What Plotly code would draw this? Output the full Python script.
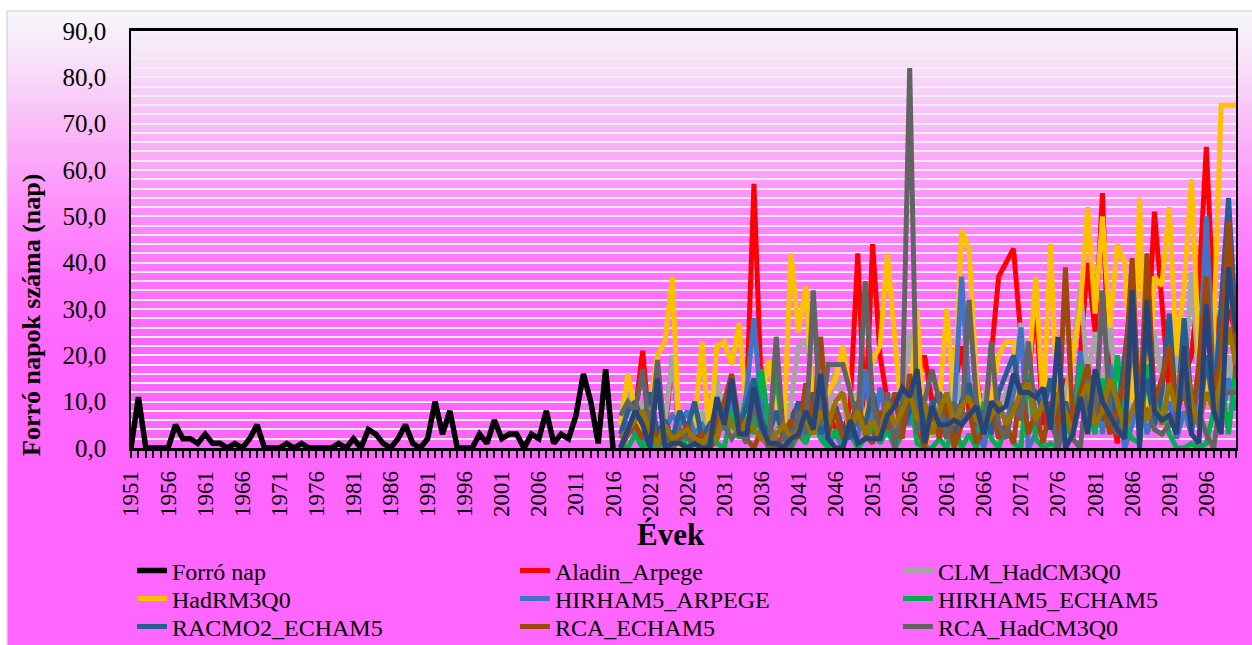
import plotly.graph_objects as go

# --- adatok -------------------------------------------------------------
years_obs = list(range(1951, 2017))
years_proj = list(range(2017, 2101))

forro_nap = [0, 11, 0, 0, 0, 0, 5, 2, 2, 1,
             3, 1, 1, 0, 1, 0, 2, 5, 0, 0,
             0, 1, 0, 1, 0, 0, 0, 0, 1, 0,
             2, 0, 4, 3, 1, 0, 2, 5, 1, 0,
             2, 10, 3, 8, 0, 0, 0, 3, 1, 6,
             2, 3, 3, 0, 3, 2, 8, 1, 3, 2,
             7, 16, 10, 1, 17, 0]

aladin_arpege = [0, 3, 8, 21, 2, 0, 3, 20, 1, 3,
                 2, 5, 0, 2, 8, 15, 4, 10, 57, 12,
                 3, 5, 8, 7, 9, 5, 10, 3, 8, 4,
                 2, 10, 42, 5, 44, 20, 10, 3, 8, 12,
                 14, 20, 10, 6, 3, 12, 22, 8, 15, 6,
                 20, 37, 40, 43, 24, 15, 31, 5, 8, 3,
                 15, 5, 20, 40, 25, 55, 10, 1, 15, 20,
                 8, 20, 51, 30, 12, 10, 15, 20, 35, 65,
                 30, 20, 30, 25]

clm_hadcm3q0 = [8, 12, 5, 10, 3, 12, 5, 20, 2, 5,
                3, 8, 2, 15, 6, 3, 10, 5, 12, 4,
                2, 6, 3, 10, 22, 23, 15, 5, 8, 17,
                10, 3, 12, 6, 10, 4, 8, 3, 12, 25,
                5, 10, 3, 12, 5, 20, 8, 15, 5, 10,
                18, 8, 12, 15, 27, 10, 5, 15, 8, 3,
                12, 20, 35, 15, 25, 10, 28, 8, 15, 5,
                20, 10, 25, 15, 8, 20, 12, 38, 15, 10,
                25, 8, 20, 10]

hadrm3q0 = [5, 16, 8, 0, 10, 20, 23, 37, 0, 0,
            5, 23, 2, 22, 23, 18, 27, 7, 14, 10,
            19, 10, 3, 42, 25, 35, 5, 10, 12, 15,
            22, 12, 8, 5, 19, 22, 42, 22, 5, 10,
            30, 0, 5, 10, 30, 10, 47, 43, 15, 3,
            10, 20, 23, 23, 5, 15, 37, 8, 44, 5,
            3, 20, 30, 52, 29, 50, 26, 44, 40, 10,
            54, 5, 37, 35, 52, 20, 35, 58, 20, 10,
            25, 74, 74, 74]

hirham5_arpege = [2, 5, 3, 0, 8, 2, 4, 7, 5, 8,
                  3, 5, 2, 6, 4, 10, 3, 12, 28, 8,
                  5, 2, 0, 3, 6, 2, 8, 4, 1, 3,
                  0, 5, 2, 17, 3, 13, 5, 2, 8, 5,
                  12, 3, 10, 6, 2, 8, 37, 12, 5, 0,
                  8, 3, 5, 12, 26, 0, 3, 12, 5, 2,
                  10, 3, 21, 8, 15, 3, 18, 10, 0, 5,
                  12, 3, 8, 6, 10, 2, 8, 3, 15, 50,
                  12, 5, 15, 8]

hirham5_echam5 = [1, 0, 3, 0, 2, 0, 5, 1, 3, 0,
                  2, 0, 4, 1, 0, 8, 2, 10, 3, 17,
                  5, 16, 2, 0, 3, 1, 6, 2, 0, 4,
                  1, 3, 0, 2, 5, 1, 4, 0, 3, 12,
                  1, 0, 0, 2, 0, 5, 0, 3, 0, 10,
                  2, 0, 5, 1, 0, 16, 2, 0, 1, 0,
                  5, 2, 18, 8, 3, 15, 4, 20, 5, 2,
                  1, 18, 5, 10, 3, 0, 0, 1, 0, 1,
                  8, 15, 3, 18]

racmo2_echam5 = [3, 8, 10, 5, 12, 3, 6, 2, 8, 4,
                 10, 2, 5, 3, 8, 12, 5, 9, 15, 6,
                 3, 8, 2, 5, 10, 4, 12, 3, 6, 9,
                 4, 2, 8, 5, 12, 3, 6, 10, 4, 8,
                 15, 5, 9, 12, 6, 3, 10, 14, 5, 8,
                 3, 12, 16, 20, 10, 14, 12, 8, 15, 5,
                 10, 3, 12, 8, 15, 6, 12, 5, 20, 34,
                 8, 15, 5, 12, 29, 6, 28, 10, 5, 20,
                 8, 30, 54, 25]

rca_echam5 = [0, 3, 5, 2, 8, 1, 4, 0, 2, 5,
              1, 3, 0, 6, 10, 16, 5, 2, 0, 4,
              1, 0, 3, 6, 2, 14, 5, 24, 3, 8,
              2, 5, 10, 3, 1, 8, 4, 12, 2, 16,
              5, 0, 8, 2, 10, 0, 5, 8, 1, 4,
              10, 2, 5, 1, 14, 3, 8, 1, 10, 3,
              39, 5, 12, 18, 6, 10, 3, 8, 15, 41,
              5, 42, 10, 15, 22, 8, 12, 5, 18, 37,
              10, 20, 49, 15]

rca_hadcm3q0 = [7, 10, 8, 17, 2, 19, 2, 0, 4, 2,
                1, 0, 3, 10, 5, 2, 4, 1, 10, 3,
                0, 24, 2, 0, 8, 3, 34, 5, 18, 18,
                18, 12, 5, 36, 10, 2, 12, 0, 10, 82,
                3, 10, 17, 10, 2, 10, 5, 32, 10, 3,
                23, 5, 2, 10, 6, 23, 5, 10, 8, 0,
                8, 2, 0, 15, 5, 34, 8, 3, 5, 25,
                6, 8, 4, 3, 5, 7, 15, 5, 8, 3,
                0, 12, 12, 12]

# a jelmagyarázatból kimaradt két modell
modell_10 = [2, 4, 6, 8, 3, 1, 5, 2, 3, 4,
             2, 1, 3, 2, 8, 5, 3, 6, 4, 2,
             1, 3, 5, 2, 4, 6, 3, 8, 5, 10,
             12, 4, 8, 3, 6, 2, 10, 5, 8, 12,
             6, 10, 3, 8, 12, 5, 9, 11, 6, 4,
             7, 10, 5, 8, 12, 14, 6, 10, 5, 12,
             8, 3, 10, 14, 5, 8, 15, 10, 4, 8,
             12, 6, 10, 5, 14, 8, 22, 10, 5, 12,
             8, 15, 26, 18]

modell_11 = [0, 4, 8, 5, 0, 15, 0, 1, 1, 0,
             1, 0, 0, 11, 5, 15, 3, 3, 13, 5,
             1, 1, 0, 2, 3, 8, 4, 16, 2, 0,
             0, 6, 1, 2, 2, 2, 7, 9, 13, 11,
             17, 1, 9, 5, 5, 6, 5, 7, 9, 3,
             10, 8, 9, 16, 12, 12, 11, 13, 4, 24,
             0, 3, 11, 3, 17, 10, 7, 4, 2, 34,
             0, 32, 8, 6, 7, 3, 22, 3, 1, 31,
             8, 3, 39, 25]

# (név, értékek, szín, jelmagyarázat)
series = [
    ("Aladin_Arpege", aladin_arpege, "#FF0000", "legend2"),
    ("CLM_HadCM3Q0", clm_hadcm3q0, "#A5A5A5", "legend3"),
    ("HadRM3Q0", hadrm3q0, "#FFC000", "legend4"),
    ("HIRHAM5_ARPEGE", hirham5_arpege, "#4472C4", "legend5"),
    ("HIRHAM5_ECHAM5", hirham5_echam5, "#00B050", "legend6"),
    ("RACMO2_ECHAM5", racmo2_echam5, "#255E91", "legend7"),
    ("RCA_ECHAM5", rca_echam5, "#9E480E", "legend8"),
    ("RCA_HadCM3Q0", rca_hadcm3q0, "#636363", "legend9"),
    (None, modell_10, "#997300", None),
    (None, modell_11, "#264478", None),
]

FONT = "Liberation Serif, Times New Roman, serif"

fig = go.Figure()

fig.add_trace(go.Scatter(
    x=years_obs, y=forro_nap, mode="lines", name="Forró nap",
    line=dict(color="#000000", width=5.5), legend="legend"
))

for name, vals, color, leg in series:
    fig.add_trace(go.Scatter(
        x=years_proj, y=vals, mode="lines",
        name=name if name else "",
        line=dict(color=color, width=5),
        showlegend=name is not None,
        legend=leg if leg else "legend",
    ))

# --- háttér színátmenet (fehér -> magenta) ------------------------------
W, H = 1252, 645
L, R, T, B = 131, 1236, 31, 448
pw, ph = R - L, B - T

def px_to_paper_x(px):
    return (px - L) / pw

def px_to_paper_y(py):
    return (B - py) / ph

stops = [(11, (246, 247, 251)), (60, (247, 226, 249)), (130, (250, 184, 247)),
         (200, (253, 146, 251)), (280, (255, 114, 255)), (360, (255, 102, 255)),
         (645, (255, 102, 255))]

def grad_color(py):
    for (y0, c0), (y1, c1) in zip(stops[:-1], stops[1:]):
        if y0 <= py <= y1:
            t = (py - y0) / (y1 - y0)
            return "rgb(%d,%d,%d)" % tuple(round(a + (b - a) * t) for a, b in zip(c0, c1))
    return "rgb(255,102,255)"

shapes = []
step = 6
for py in range(11, 645, step):
    shapes.append(dict(
        type="rect", xref="paper", yref="paper", layer="below",
        x0=px_to_paper_x(7), x1=px_to_paper_x(W + 2),
        y0=px_to_paper_y(min(py + step + 1, 646)), y1=px_to_paper_y(py),
        fillcolor=grad_color(py + step / 2), line=dict(width=0)
    ))
shapes.append(dict(
    type="rect", xref="paper", yref="paper", layer="below",
    x0=px_to_paper_x(7), x1=px_to_paper_x(W + 2),
    y0=px_to_paper_y(646), y1=px_to_paper_y(11),
    fillcolor="rgba(0,0,0,0)", line=dict(color="#D9D9E3", width=1.5)
))

# jelmagyarázat: 3 oszlop x 3 sor, minden elem külön legend
legend_cols = [132, 515, 898]
legend_rows = [571, 599, 627]
legend_keys = ["legend", "legend2", "legend3", "legend4", "legend5",
               "legend6", "legend7", "legend8", "legend9"]
legends = {}
for i, key in enumerate(legend_keys):
    legends[key] = dict(
        x=px_to_paper_x(legend_cols[i % 3]), xanchor="left",
        y=px_to_paper_y(legend_rows[i // 3]), yanchor="middle",
        font=dict(family=FONT, size=24, color="#000000"),
        bgcolor="rgba(0,0,0,0)", borderwidth=0, itemclick=False,
    )

fig.update_layout(
    width=W, height=H,
    margin=dict(l=L, r=W - R, t=T, b=H - B, autoexpand=False),
    paper_bgcolor="#FFFFFF",
    plot_bgcolor="rgba(0,0,0,0)",
    separators=", ",
    font=dict(family=FONT, color="#000000"),
    shapes=shapes,
    xaxis=dict(
        range=[1951, 2100], tick0=1951, dtick=5,
        tickangle=-90, tickfont=dict(family=FONT, size=23),
        ticks="outside", ticklen=7, tickwidth=2, tickcolor="#000000",
        ticklabelstandoff=4,
        minor=dict(dtick=1, tick0=1951, ticks="outside", ticklen=7,
                   tickwidth=2, tickcolor="#000000"),
        showgrid=False, zeroline=False,
        showline=True, linecolor="#000000", linewidth=2.5, mirror=True,
    ),
    yaxis=dict(
        range=[0, 90], dtick=10, tickformat=".1f",
        tickfont=dict(family=FONT, size=25),
        ticks="", ticklabelstandoff=18,
        showgrid=True, gridcolor="#F1EEF3", gridwidth=1.5,
        minor=dict(dtick=2, showgrid=True, gridcolor="#F1EEF3", gridwidth=1.5),
        zeroline=False,
        showline=True, linecolor="#000000", linewidth=1.5, mirror=True,
    ),
    annotations=[
        dict(text="<b>Forró napok száma (nap)</b>", xref="paper", yref="paper",
             x=px_to_paper_x(31), y=px_to_paper_y(315), textangle=-90,
             showarrow=False, font=dict(family=FONT, size=26, color="#000000"),
             xanchor="center", yanchor="middle"),
        dict(text="<b>Évek</b>", xref="paper", yref="paper",
             x=px_to_paper_x(671), y=px_to_paper_y(554),
             showarrow=False, font=dict(family=FONT, size=31, color="#000000"),
             xanchor="center", yanchor="bottom"),
    ],
    **legends,
)

fig.write_html("out.html", config={"displayModeBar": False},
               post_script="document.body.style.margin='0';")
